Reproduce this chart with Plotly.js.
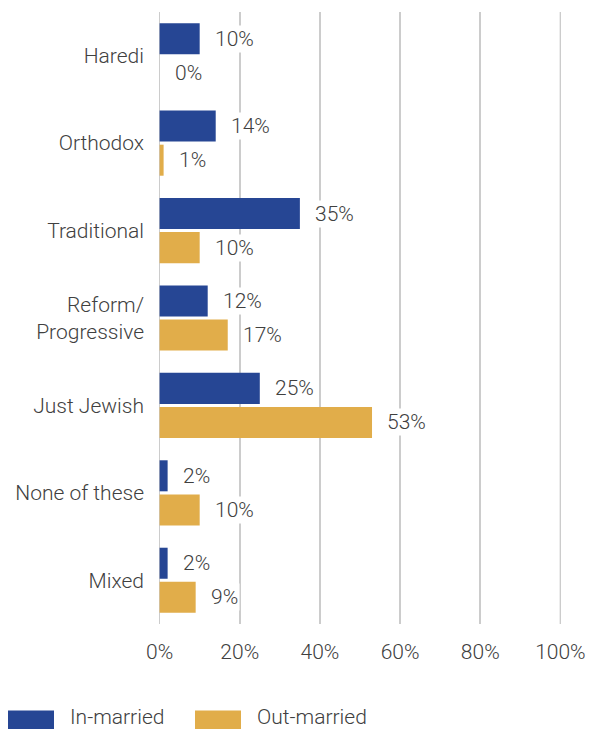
<!DOCTYPE html>
<html><head><meta charset="utf-8">
<script src="https://cdn.plot.ly/plotly-3.0.1.min.js"></script>
<style>html,body{margin:0;padding:0;background:#fff;}#chart{width:590px;height:729px;}</style>
</head><body><div id="chart"></div>
<script>
const categories = ["Haredi","Orthodox","Traditional","Reform/<br>Progressive","Just Jewish","None of these","Mixed"];
const seriesNames = ["In-married","Out-married"];
const inMarried = [10,14,35,12,25,2,2];
const outMarried = [0,1,10,17,53,10,9];
const xTicks = [0,20,40,60,80,100];
const xTickLabels = ["0%","20%","40%","60%","80%","100%"];

const BLUE = "#264694", GOLD = "#e1ad4a", TXT = "#404040", GRID = "#cccccc";
const FONT = "Roboto, Liberation Sans, Arial, sans-serif";
const FW = 300, FS = 21;

const traces = [
  {type:"bar", orientation:"h", name:seriesNames[0], y:categories, x:inMarried, marker:{color:BLUE}, hoverinfo:"none"},
  {type:"bar", orientation:"h", name:seriesNames[1], y:categories, x:outMarried, marker:{color:GOLD}, hoverinfo:"none"}
];

const annotations = [];
[inMarried, outMarried].forEach((vals, s) => {
  vals.forEach((v, i) => {
    annotations.push({x:v, y:categories[i], xref:"x", yref:"y", text:v+"%", showarrow:false,
      xanchor:"left", yanchor:"middle", xshift:13, yshift: s===0 ? 17 : -17,
      bgcolor:"#ffffff", borderpad:1, font:{family:FONT, size:FS, weight:FW, color:TXT}});
  });
});
// legend
const legY = (623-716)/609;
annotations.push({xref:"paper", yref:"paper", x:(68-159)/402, y:legY, text:seriesNames[0], showarrow:false, xanchor:"left", yanchor:"middle", font:{family:FONT,size:FS,weight:FW,color:TXT}});
annotations.push({xref:"paper", yref:"paper", x:(255-159)/402, y:legY, text:seriesNames[1], showarrow:false, xanchor:"left", yanchor:"middle", font:{family:FONT,size:FS,weight:FW,color:TXT}});

const shapes = [
  {type:"line", xref:"x", yref:"paper", x0:xTicks[xTicks.length-1], x1:xTicks[xTicks.length-1], y0:0, y1:1, layer:"below", line:{color:GRID, width:1.5}},
  {type:"rect", xref:"paper", yref:"paper", x0:(8-159)/402, x1:(54-159)/402, y0:(623-729)/609, y1:(623-709)/609, fillcolor:BLUE, line:{width:0}},
  {type:"rect", xref:"paper", yref:"paper", x0:(195-159)/402, x1:(241-159)/402, y0:(623-729)/609, y1:(623-709)/609, fillcolor:GOLD, line:{width:0}}
];

const layout = {
  width:590, height:729,
  margin:{l:159, r:29, t:12, b:105},
  paper_bgcolor:"#fff", plot_bgcolor:"#fff",
  barmode:"group", bargap:0.22, bargroupgap:0.09,
  showlegend:false,
  font:{family:FONT, size:FS, weight:FW, color:TXT},
  xaxis:{range:[-0.15,100.15], tickmode:"array", tickvals:xTicks, ticktext:xTickLabels, showgrid:true, gridcolor:GRID, gridwidth:1.5,
         zeroline:true, zerolinecolor:GRID, zerolinewidth:1.5, showline:false, ticks:"", ticklabelstandoff:13, fixedrange:true,
         tickfont:{family:FONT, size:FS, weight:FW, color:TXT}},
  yaxis:{autorange:"reversed", showgrid:false, zeroline:false, showline:false, ticks:"", ticklabelstandoff:14,
         tickfont:{family:FONT, size:FS, weight:FW, color:TXT}, fixedrange:true},
  annotations:annotations, shapes:shapes
};
Plotly.newPlot("chart", traces, layout, {displayModeBar:false, staticPlot:true});
</script></body></html>
